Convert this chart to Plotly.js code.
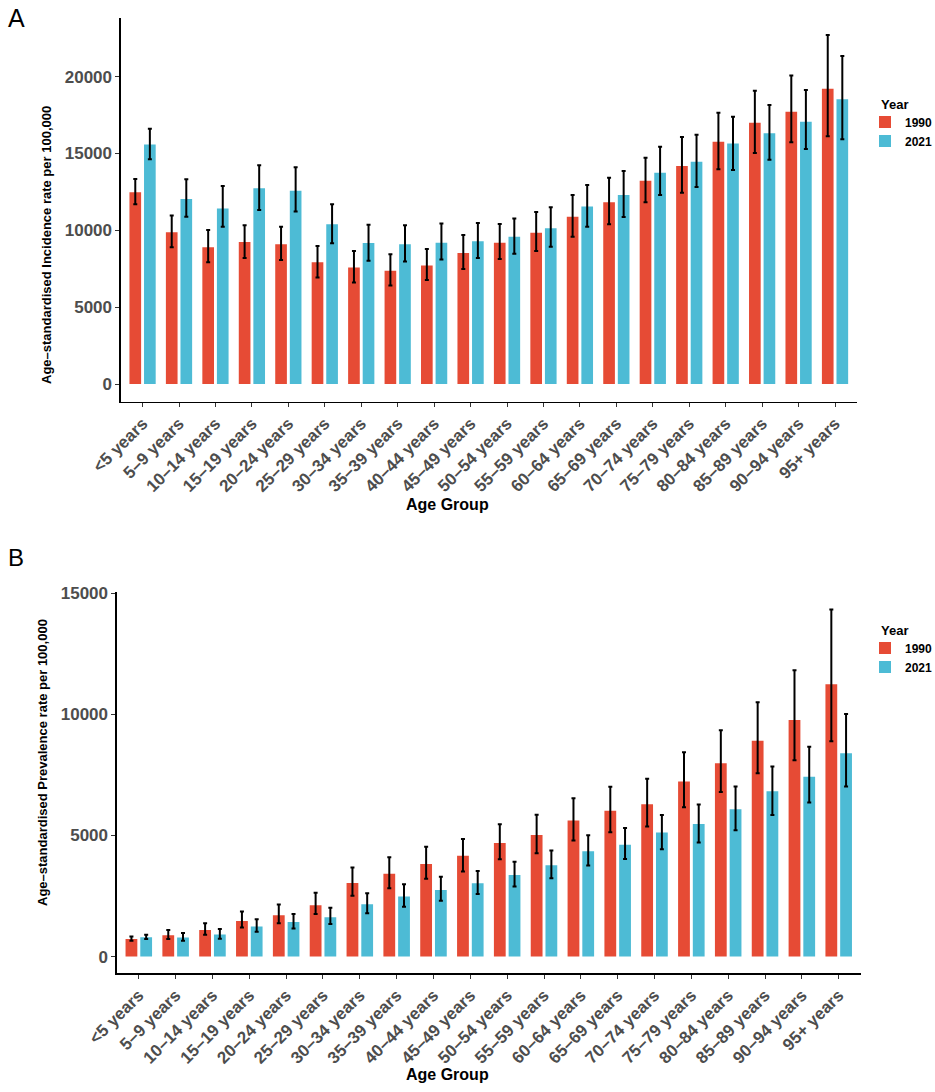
<!DOCTYPE html>
<html>
<head>
<meta charset="utf-8">
<script src="https://cdn.plot.ly/plotly-3.0.1.min.js"></script>
<style>
  html, body { margin: 0; padding: 0; background: #ffffff; }
  #chart { width: 935px; height: 1092px; }
</style>
</head>
<body>
<div id="chart"></div>
<script>
// ---------- data ----------
const ageGroups = ["<5 years", "5–9 years", "10–14 years", "15–19 years", "20–24 years",
  "25–29 years", "30–34 years", "35–39 years", "40–44 years", "45–49 years",
  "50–54 years", "55–59 years", "60–64 years", "65–69 years", "70–74 years",
  "75–79 years", "80–84 years", "85–89 years", "90–94 years", "95+ years"];

const years = ["1990", "2021"];

// Panel A: age-standardised incidence rate per 100,000
const incidence1990 = [12480, 9870, 8900, 9240, 9090, 7920, 7590, 7370, 7720, 8530,
  9200, 9850, 10890, 11830, 13230, 14190, 15770, 17010, 17720, 19220];
const incidence1990Upper = [13340, 10960, 10020, 10330, 10240, 8980, 8660, 8440, 8790, 9700,
  10410, 11190, 12300, 13430, 14730, 16080, 17660, 19090, 20070, 22710];
const incidence1990Lower = [11700, 8900, 7920, 8200, 8070, 6940, 6600, 6420, 6770, 7480,
  8140, 8660, 9590, 10390, 11830, 12450, 13970, 15030, 15730, 16120];

const incidence2021 = [15580, 12040, 11430, 12740, 12580, 10390, 9180, 9090, 9200, 9290,
  9590, 10130, 11560, 12300, 13750, 14470, 15660, 16320, 17070, 18530];
const incidence2021Upper = [16620, 13320, 12890, 14230, 14100, 11700, 10370, 10330, 10440, 10480,
  10780, 11500, 12950, 13860, 15440, 16230, 17400, 18160, 19130, 21350];
const incidence2021Lower = [14620, 10890, 10240, 11320, 11220, 9160, 8030, 7980, 8110, 8200,
  8480, 8940, 10240, 10870, 12300, 12820, 13930, 14600, 15290, 15930];

// Panel B: age-standardised prevalence rate per 100,000
const prevalence1990 = [730, 880, 1100, 1470, 1710, 2120, 3040, 3420, 3820, 4160,
  4690, 5020, 5620, 6020, 6290, 7230, 7990, 8910, 9770, 11250];
const prevalence1990Upper = [830, 1100, 1380, 1860, 2150, 2640, 3680, 4100, 4540, 4860,
  5470, 5860, 6540, 7010, 7350, 8440, 9350, 10500, 11830, 14340];
const prevalence1990Lower = [650, 730, 900, 1200, 1380, 1760, 2510, 2820, 3210, 3510,
  4020, 4270, 4790, 5140, 5370, 6170, 6800, 7570, 8110, 8890];

const prevalence2021 = [800, 790, 910, 1240, 1430, 1630, 2160, 2480, 2750, 3030,
  3370, 3770, 4350, 4620, 5120, 5480, 6090, 6830, 7430, 8400];
const prevalence2021Upper = [900, 970, 1140, 1540, 1760, 2020, 2620, 2990, 3300, 3540,
  3920, 4380, 5010, 5310, 5850, 6280, 7020, 7850, 8670, 10020];
const prevalence2021Lower = [730, 650, 740, 1030, 1160, 1350, 1790, 2060, 2310, 2580,
  2890, 3240, 3760, 4030, 4430, 4710, 5220, 5850, 6360, 7020];

// ---------- styling ----------
const W = 935, H = 1092;
const FONT = "Liberation Sans, Arial, Helvetica, sans-serif";
const colors = {"1990": "#E64B35", "2021": "#4DBBD5"};

function px(x) { return x / W; }
function py(y) { return 1 - y / H; }

function errBars(vals, up, lo) {
  return {
    type: "data", symmetric: false,
    array: up.map((u, i) => u - vals[i]),
    arrayminus: lo.map((l, i) => vals[i] - l),
    color: "#000000", thickness: 2, width: 2
  };
}

function barTrace(year, vals, up, lo, xa, ya, leg) {
  return {
    type: "bar", name: year, x: ageGroups, y: vals,
    xaxis: xa, yaxis: ya, legend: leg,
    marker: {color: colors[year], line: {width: 0}},
    error_y: errBars(vals, up, lo),
    hoverinfo: "x+y+name"
  };
}

const traces = [
  barTrace(years[0], incidence1990, incidence1990Upper, incidence1990Lower, "x", "y", "legend"),
  barTrace(years[1], incidence2021, incidence2021Upper, incidence2021Lower, "x", "y", "legend"),
  barTrace(years[0], prevalence1990, prevalence1990Upper, prevalence1990Lower, "x2", "y2", "legend2"),
  barTrace(years[1], prevalence2021, prevalence2021Upper, prevalence2021Lower, "x2", "y2", "legend2")
];

function tickFont() { return {family: FONT, size: 17, color: "#4D4D4D", weight: "bold"}; }

function xAxis(domain, anchor) {
  return {
    domain: domain, anchor: anchor, type: "category",
    categoryorder: "array", categoryarray: ageGroups,
    range: [-0.6, ageGroups.length - 0.4],
    showline: true, linecolor: "#000000", linewidth: 1.3,
    ticks: "outside", ticklen: 4, tickwidth: 1, tickcolor: "#333333",
    tickangle: -45, tickfont: tickFont(),
    showgrid: false, zeroline: false, fixedrange: true, automargin: false
  };
}

function yAxis(domain, anchor, range, dtick) {
  return {
    domain: domain, anchor: anchor, range: range,
    tickmode: "linear", tick0: 0, dtick: dtick,
    showline: true, linecolor: "#000000", linewidth: 1.3,
    ticks: "outside", ticklen: 4, tickwidth: 1, tickcolor: "#333333",
    tickfont: tickFont(), tickformat: "d",
    showgrid: false, zeroline: false, fixedrange: true, automargin: false
  };
}

function legendAt(xPx, yPx) {
  return {
    x: px(xPx), y: py(yPx), xanchor: "left", yanchor: "top",
    bgcolor: "rgba(0,0,0,0)", borderwidth: 0,
    font: {family: FONT, size: 12, color: "#000000", weight: "bold"},
    tracegroupgap: 0, itemwidth: 30, traceorder: "normal"
  };
}

function note(text, x, y, opts) {
  return Object.assign({text: text, xref: "paper", yref: "paper", x: px(x), y: py(y),
    showarrow: false}, opts);
}

const boldFont = (size) => ({family: FONT, size: size, color: "#000000", weight: "bold"});

const layout = {
  width: W, height: H,
  margin: {l: 0, r: 0, t: 0, b: 0, pad: 0, autoexpand: false},
  paper_bgcolor: "#ffffff", plot_bgcolor: "#ffffff",
  font: {family: FONT, color: "#000000"},
  barmode: "group", bargap: 0.2, bargroupgap: 0.2,
  showlegend: true,
  xaxis: xAxis([px(120.7), px(856.9)], "y"),
  yaxis: yAxis([py(401.7), py(18)], "x", [-1150, 23820], 5000),
  xaxis2: xAxis([px(116.7), px(860.8)], "y2"),
  yaxis2: yAxis([py(973.3), py(591.7)], "x2", [-690, 15070], 5000),
  legend: legendAt(865, 107.5),
  legend2: legendAt(865, 633.5),
  annotations: [
    note("A", 6, 2, {xanchor: "left", yanchor: "top", font: {family: FONT, size: 25, color: "#000000"}}),
    note("B", 6, 542, {xanchor: "left", yanchor: "top", font: {family: FONT, size: 24, color: "#000000"}}),
    note("Year", 879, 105, {xanchor: "left", yanchor: "middle", font: boldFont(13)}),
    note("Year", 879, 630.5, {xanchor: "left", yanchor: "middle", font: boldFont(13)}),
    note("Age–standardised Incidence rate per 100,000", 47, 245,
      {xanchor: "center", yanchor: "middle", textangle: -90, font: boldFont(13)}),
    note("Age–standardised Prevalence rate per 100,000", 42, 763,
      {xanchor: "center", yanchor: "middle", textangle: -90, font: boldFont(13)}),
    note("Age Group", 447.5, 504, {xanchor: "center", yanchor: "middle", font: boldFont(16)}),
    note("Age Group", 447.5, 1074, {xanchor: "center", yanchor: "middle", font: boldFont(16)})
  ]
};

Plotly.newPlot("chart", traces, layout, {displayModeBar: false, staticPlot: true});
</script>
</body>
</html>
